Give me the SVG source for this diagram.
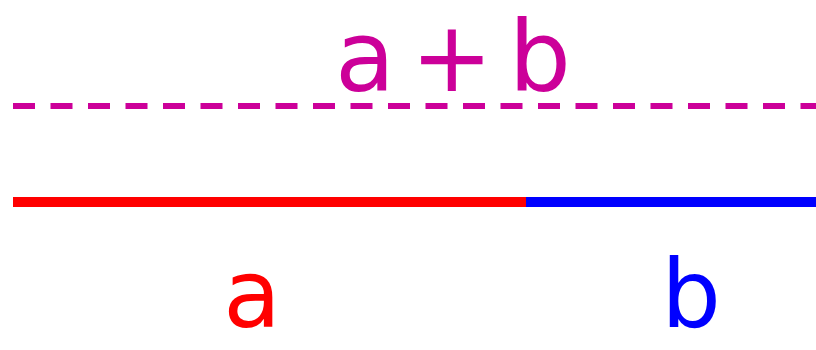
<svg xmlns="http://www.w3.org/2000/svg" width="816" height="350" viewBox="0 0 816 350">
<style>
.lbl{font-family:"Comic Sans MS","DejaVu Sans",sans-serif;font-size:98px}
.sm{font-size:94px}
</style>
<rect width="816" height="350" fill="#fff"/>
<g id="connectors">
<line x1="13" y1="106" x2="816" y2="106" stroke="#CC0099" stroke-width="6" stroke-dasharray="22 15.5"/>
<line x1="13" y1="202" x2="526" y2="202" stroke="#FF0000" stroke-width="10"/>
<line x1="526" y1="202" x2="816" y2="202" stroke="#0000FF" stroke-width="10"/>
</g>
<g id="sum"><text class="lbl" x="335" y="91" fill="#CC0099" textLength="236" lengthAdjust="spacing">a + b</text></g>
<g id="a"><text class="lbl sm" x="252" y="327" fill="#FF0000" text-anchor="middle">a</text></g>
<g id="b"><text class="lbl sm" x="691" y="327" fill="#0000FF" text-anchor="middle">b</text></g>
</svg>
